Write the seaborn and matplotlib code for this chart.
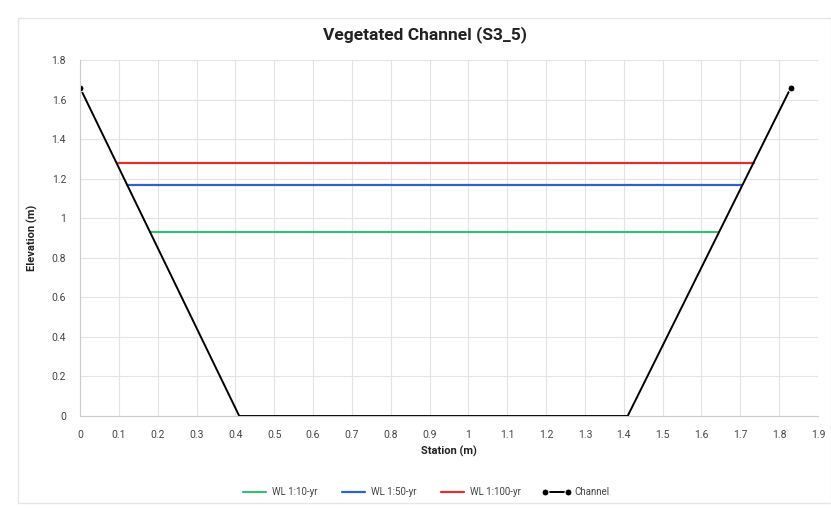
import numpy as np
import pandas as pd
import seaborn as sns
import matplotlib.pyplot as plt
from matplotlib.patches import Rectangle

# channel cross-section
station = [0.0, 0.41, 1.41, 1.83]
elevation = [1.66, 0.0, 0.0, 1.66]

# water levels: (label, elevation, left station, right station)
wl_labels = ["WL 1:10-yr", "WL 1:50-yr", "WL 1:100-yr"]
wl_elev = [0.93, 1.17, 1.28]
wl_left = [0.18, 0.12, 0.095]
wl_right = [1.645, 1.705, 1.735]
wl_colors = ["#3cb878", "#2f62c9", "#e0302e"]

sns.set_theme(style="whitegrid")
plt.rcParams['font.family'] = ['Roboto', 'DejaVu Sans']

fig = plt.figure(figsize=(8.31, 5.08), dpi=100)
ax = fig.add_axes([80/831, 1-416/508, (818-80)/831, (416-60)/508])

# light outer frame
fig.patches.append(Rectangle((18/831, 0.01), 1-18/831, 0.955, transform=fig.transFigure,
                             fill=False, edgecolor="#e6e6e6", linewidth=1))

for lab, y, x0, x1, c in zip(wl_labels, wl_elev, wl_left, wl_right, wl_colors):
    d = pd.DataFrame({"x": [x0, x1], "y": [y, y]})
    sns.lineplot(data=d, x="x", y="y", ax=ax, color=c, linewidth=1.6, label=lab)

ch = pd.DataFrame({"x": station, "y": elevation})
sns.lineplot(data=ch, x="x", y="y", ax=ax, color="black", linewidth=1.4,
             marker="o", markersize=5, markevery=[0, len(station)-1], label="Channel",
             sort=False)

ax.set_xlim(0, 1.9)
ax.set_ylim(0, 1.8)
ax.set_xticks(np.arange(0, 1.91, 0.1))
ax.set_xticklabels(["0"] + [f"{v:g}" for v in np.arange(0.1, 1.91, 0.1).round(1)])
ax.set_yticks(np.arange(0, 1.81, 0.2))
ax.set_yticklabels(["0", "0.2", "0.4", "0.6", "0.8", "1", "1.2", "1.4", "1.6", "1.8"])
ax.tick_params(labelsize=7.5, colors="#444444", pad=4)
ax.grid(color="#e3e3e3", linewidth=0.8)
for s in ["top", "right"]:
    ax.spines[s].set_visible(False)
for s in ["left", "bottom"]:
    ax.spines[s].set_color("#cccccc")
    ax.spines[s].set_linewidth(0.8)

ax.set_xlabel("Station (m)", fontsize=8, fontweight="bold", color="#222222", labelpad=4)
ax.set_ylabel("Elevation (m)", fontsize=8, fontweight="bold", color="#222222", labelpad=10)
fig.text(0.5 + 18/831/2, 1-35/508, "Vegetated Channel (S3_5)", ha="center", va="center",
         fontsize=12.5, fontweight="bold", color="#222222")

h, l = ax.get_legend_handles_labels()
ax.get_legend().remove()
fig.legend(h, l, loc="center", bbox_to_anchor=(0.5 + 18/831/2, 1-492/508), ncol=4,
           frameon=False, fontsize=7, handlelength=3, handletextpad=0.3, columnspacing=2.2,
           labelcolor="#444444", numpoints=2)

fig.savefig("out.png", dpi=100)
